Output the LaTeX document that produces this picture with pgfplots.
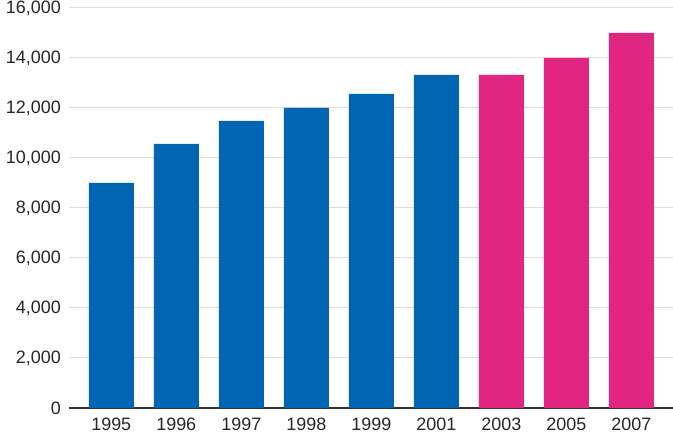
\documentclass[border=0pt]{standalone}
\usepackage{pgfplots}
\pgfplotsset{compat=1.18}
\usepackage{fontspec}
\setmainfont{Liberation Sans}
\definecolor{barblue}{RGB}{0,102,179}
\definecolor{barpink}{RGB}{224,38,128}
\definecolor{gridgray}{RGB}{221,221,221}
\definecolor{axisdark}{RGB}{51,51,51}
\begin{document}
\begin{tikzpicture}[x=1bp,y=1bp]
\begin{axis}[
    name=ax,
    scale only axis,
    width=604bp, height=400bp,
    ymin=0, ymax=16000,
    xmin=-0.65, xmax=8.64,
    ytick={0,2000,...,16000},
    xtick={0,...,8},
    xticklabels={1995,1996,1997,1998,1999,2001,2003,2005,2007},
    ymajorgrids,
    grid style={gridgray, line width=1bp},
    axis x line*=bottom,
    axis y line*=left,
    y axis line style={draw=none},
    x axis line style={axisdark, line width=1.2bp},
    major tick length=0pt,
    tick label style={font=\fontsize{18}{20}\selectfont, text=black!85},
    yticklabel style={anchor=east, xshift=-8bp, inner sep=0pt},
    xticklabel style={anchor=north, yshift=-10bp, inner sep=0pt},
    /pgf/number format/assume math mode=true,
    /pgf/number format/1000 sep={,},
    scaled y ticks=false,
    ybar, bar width=45bp, bar shift=0pt,
]
\addplot[draw=none, fill=barblue] coordinates {
    (0,9000) (1,10560) (2,11480) (3,12000) (4,12560) (5,13320)};
\addplot[draw=none, fill=barpink] coordinates {
    (6,13320) (7,14000) (8,15000)};
\end{axis}
\pgfresetboundingbox
\path (ax.south west) ++(-69bp,-25bp) -- (ax.north east) ++(0bp,8bp);
\end{tikzpicture}
\end{document}
